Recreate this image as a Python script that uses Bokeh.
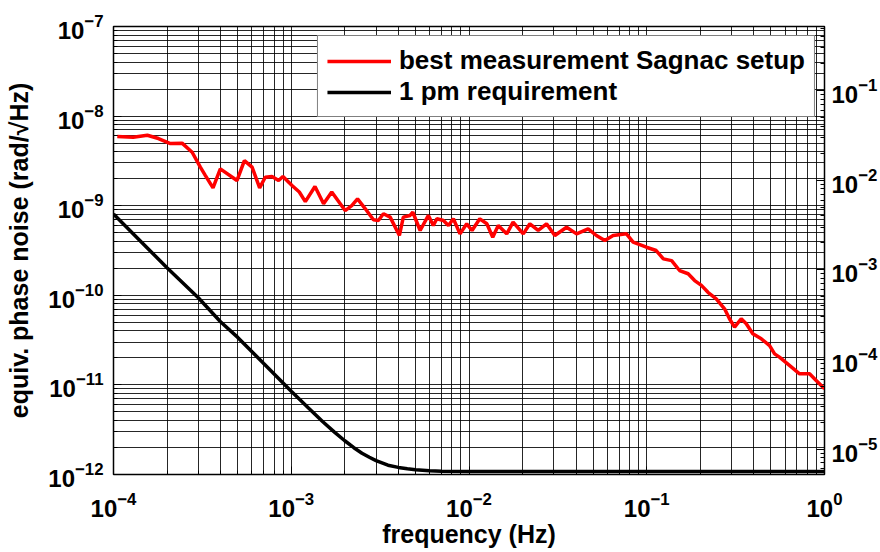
import math
from bokeh.plotting import figure
from bokeh.models import Range1d, LogScale, LogAxis, FixedTicker
from bokeh.embed import file_html
from bokeh.resources import INLINE

# ---------------- data ----------------
x_decades = [-4, -3, -2, -1, 0]            # tick exponents, frequency axis
y_decades = [-12, -11, -10, -9, -8, -7]    # left axis exponents
r_decades = [-5, -4, -3, -2, -1]           # right axis exponents
right_scale = 5.2e6                        # right axis = left axis * scale

meas_f = [1.05e-4, 1.29e-4, 1.55e-4, 1.79e-4, 2.09e-4, 2.43e-4, 2.77e-4, 3.08e-4, 3.29e-4, 3.63e-4, 3.99e-4,
          4.95e-4, 5.45e-4, 6.02e-4, 6.64e-4, 7.14e-4, 7.79e-4, 8.49e-4, 8.98e-4,
          1.01e-3, 1.11e-3, 1.20e-3, 1.36e-3, 1.52e-3, 1.69e-3, 2.01e-3, 2.19e-3, 2.36e-3, 2.61e-3, 2.90e-3,
          3.09e-3, 3.30e-3, 3.60e-3, 4.06e-3, 4.27e-3, 4.66e-3, 4.83e-3, 5.31e-3, 5.91e-3, 6.30e-3, 6.59e-3,
          7.18e-3, 7.66e-3, 8.17e-3, 8.90e-3, 9.71e-3,
          1.04e-2, 1.15e-2, 1.26e-2, 1.36e-2, 1.46e-2, 1.63e-2, 1.77e-2, 2.02e-2, 2.20e-2, 2.45e-2, 2.73e-2,
          3.04e-2, 3.54e-2, 4.03e-2, 4.68e-2, 5.21e-2, 5.81e-2, 6.47e-2, 7.69e-2, 8.38e-2, 9.96e-2,
          0.113, 0.124, 0.138, 0.153, 0.171, 0.186, 0.203, 0.221, 0.246, 0.274, 0.292, 0.312, 0.340, 0.363,
          0.395, 0.441, 0.491, 0.524, 0.558, 0.635, 0.724, 0.824, 0.898, 1.0]
meas_v = [5.91e-9, 5.82e-9, 6.12e-9, 5.62e-9, 4.94e-9, 4.99e-9, 3.95e-9, 2.69e-9, 2.17e-9, 1.58e-9, 2.58e-9,
          1.91e-9, 3.19e-9, 2.69e-9, 1.58e-9, 2.08e-9, 2.12e-9, 1.91e-9, 2.12e-9,
          1.68e-9, 1.42e-9, 1.11e-9, 1.64e-9, 1.05e-9, 1.42e-9, 8.83e-10, 1.00e-9, 1.19e-9, 9.23e-10, 6.96e-10,
          6.84e-10, 8.13e-10, 7.45e-10, 4.65e-10, 7.45e-10, 7.78e-10, 8.45e-10, 5.29e-10, 7.78e-10, 6.01e-10, 7.14e-10,
          6.84e-10, 6.01e-10, 7.14e-10, 4.85e-10, 6.28e-10,
          5.29e-10, 7.14e-10, 6.28e-10, 4.45e-10, 6.01e-10, 4.85e-10, 6.55e-10, 4.85e-10, 6.28e-10, 5.29e-10, 6.28e-10,
          4.65e-10, 5.75e-10, 4.85e-10, 5.52e-10, 4.65e-10, 4.09e-10, 4.65e-10, 4.85e-10, 3.92e-10, 3.44e-10,
          3.16e-10, 2.55e-10, 2.44e-10, 1.89e-10, 1.74e-10, 1.46e-10, 1.29e-10, 1.08e-10, 9.14e-11, 7.07e-11,
          5.47e-11, 4.41e-11, 5.47e-11, 4.81e-11, 3.72e-11, 3.27e-11, 2.75e-11, 2.22e-11, 2.04e-11, 1.65e-11,
          1.33e-11, 1.33e-11, 1.12e-11, 9.04e-12]

req_f = [1e-4, 1.5e-4, 2e-4, 3e-4, 4e-4, 5e-4, 7e-4, 1e-3, 1.25e-3, 1.5e-3, 1.75e-3, 2e-3, 2.25e-3, 2.5e-3,
         2.75e-3, 3e-3, 3.5e-3, 4e-3, 4.5e-3, 5e-3, 6e-3, 7e-3, 1e-2, 2e-2, 1e-1, 1.0]
req_v = [8.1e-10, 3.6e-10, 2.03e-10, 9.4e-11, 5.07e-11, 3.39e-11, 1.73e-11, 8.5e-12, 5.53e-12, 3.9e-12, 2.97e-12,
         2.38e-12, 1.99e-12, 1.73e-12, 1.56e-12, 1.43e-12, 1.27e-12, 1.2e-12, 1.16e-12, 1.13e-12, 1.10e-12,
         1.09e-12, 1.08e-12, 1.08e-12, 1.08e-12, 1.08e-12]

series_names = ["best measurement Sagnac setup", "1 pm requirement"]
x_title = "frequency (Hz)"
y_title = "equiv. phase noise (rad/\u221aHz)"

# ---------------- style ----------------
FONT = "Liberation Sans"


def minors(decs):
    out = []
    for d in decs[:-1]:
        for m in range(2, 10):
            out.append(m * 10.0 ** d)
    return out


xmin, xmax = 10.0 ** x_decades[0], 10.0 ** x_decades[-1]
ymin, ymax = 10.0 ** y_decades[0], 10.0 ** y_decades[-1]

p = figure(width=880, height=552, x_axis_type="log", y_axis_type="log",
           x_range=Range1d(xmin, xmax), y_range=Range1d(ymin, ymax),
           output_backend="svg", toolbar_location=None,
           min_border_left=113, min_border_right=55, min_border_top=26, min_border_bottom=78)
p.background_fill_color = "white"
p.border_fill_color = "white"
p.outline_line_color = "black"
p.outline_line_width = 1.5

p.extra_y_ranges = {"right": Range1d(ymin * right_scale, ymax * right_scale)}
p.extra_y_scales = {"right": LogScale()}

x_ticker = FixedTicker(ticks=[10.0 ** d for d in x_decades], minor_ticks=minors(x_decades))
y_ticker = FixedTicker(ticks=[10.0 ** d for d in y_decades], minor_ticks=minors(y_decades))
r_all = [r_decades[0] - 1] + r_decades + [r_decades[-1] + 1]
r_ticker = FixedTicker(ticks=[10.0 ** d for d in r_decades], minor_ticks=minors(r_all))


def style_axis(ax):
    ax.major_label_text_font = FONT
    ax.major_label_text_font_style = "bold"
    ax.major_label_text_font_size = "24px"
    ax.major_label_text_color = "black"
    ax.major_tick_in = 8
    ax.major_tick_out = 0
    ax.minor_tick_in = 4
    ax.minor_tick_out = 0
    ax.axis_line_color = "black"
    ax.major_tick_line_color = "black"
    ax.minor_tick_line_color = "black"
    ax.axis_label_text_font = FONT
    ax.axis_label_text_font_style = "bold"
    ax.axis_label_text_font_size = "25px"
    ax.axis_label_text_color = "black"


xa = p.xaxis[0]
ya = p.yaxis[0]
style_axis(xa)
style_axis(ya)
xa.ticker = x_ticker
ya.ticker = y_ticker
xa.major_label_standoff = 17
xa.axis_label = x_title
xa.axis_label_standoff = 0
ya.major_label_standoff = 10
ya.axis_label = y_title
ya.axis_label_standoff = 12

rax = LogAxis(y_range_name="right", ticker=r_ticker)
style_axis(rax)
rax.major_label_standoff = 7
p.add_layout(rax, "right")

p.xgrid.ticker = x_ticker
p.ygrid.ticker = y_ticker
for g in (p.xgrid[0], p.ygrid[0]):
    g.grid_line_color = "black"
    g.grid_line_alpha = 0.85
    g.grid_line_width = 1
    g.minor_grid_line_color = "black"
    g.minor_grid_line_alpha = 0.85
    g.minor_grid_line_width = 1

p.line(meas_f, meas_v, line_color="#ff0000", line_width=3.5, legend_label=series_names[0])
p.line(req_f, req_v, line_color="black", line_width=3.5, legend_label=series_names[1])

lg = p.legend[0]
lg.location = "top_right"
lg.margin = 9
lg.padding = 9
lg.spacing = -2
lg.glyph_width = 64
lg.glyph_height = 24
lg.label_height = 24
lg.label_standoff = 8
lg.label_text_font = FONT
lg.label_text_font_size = "26px"
lg.label_text_font_style = "bold"
lg.label_text_line_height = 1.0
lg.label_text_color = "black"
lg.border_line_color = "black"
lg.border_line_width = 1.5
lg.background_fill_alpha = 1.0

open("out.html", "w").write(file_html(p, INLINE))
